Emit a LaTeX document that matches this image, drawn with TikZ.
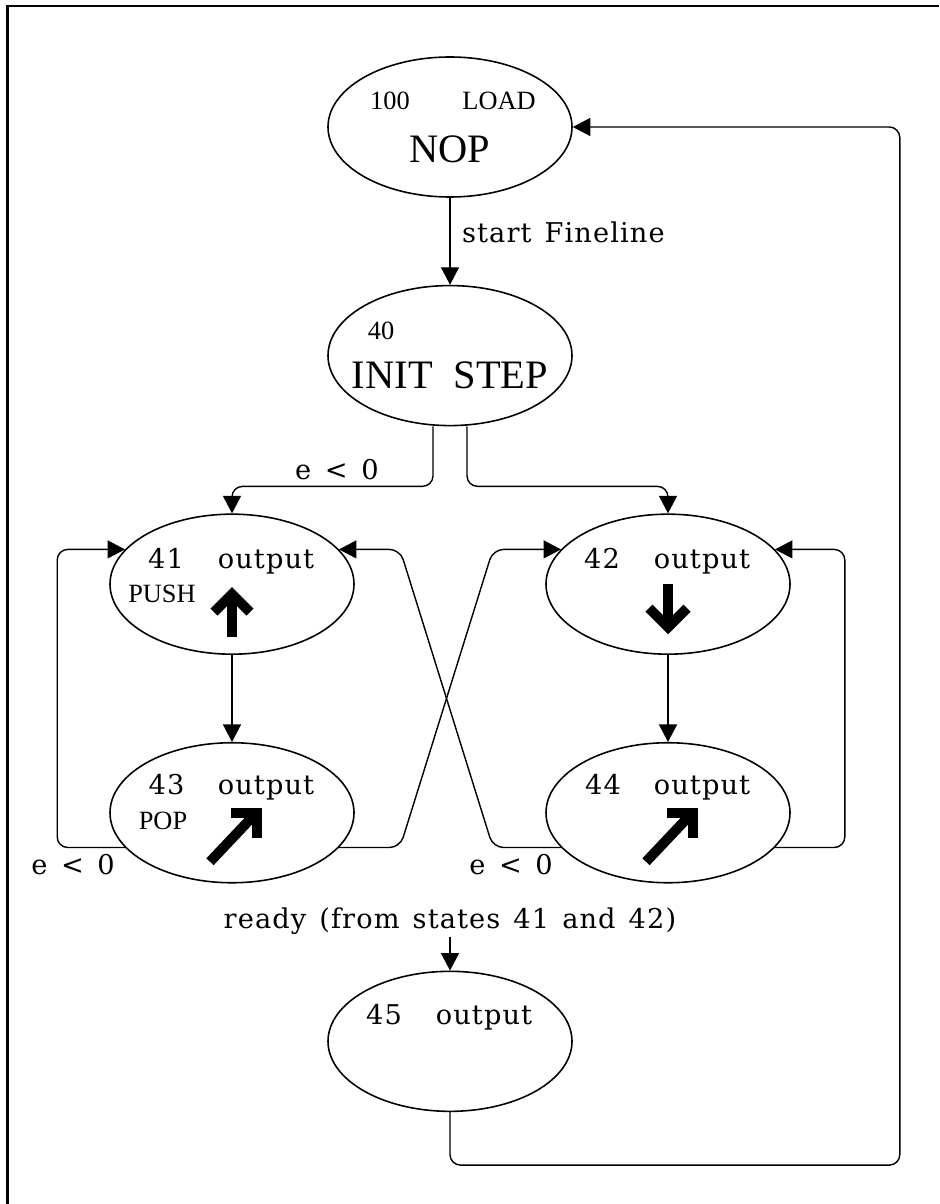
\documentclass[tikz,border=0pt]{standalone}
\usepackage{fontspec}
\setmainfont[LetterSpace=4]{DejaVu Serif}
\newfontfamily\romfont{Liberation Serif}
\usepackage{tikz}
\usetikzlibrary{arrows.meta,positioning,calc,shapes.geometric}
\newcommand\gap{\hspace{0.48em}}

\begin{document}
\begin{tikzpicture}[
  node distance=1.74cm,
  state/.style={ellipse,draw,line width=0.9pt,minimum width=4.88cm,minimum height=2.8cm,inner sep=0pt},
  lbl/.style={inner sep=1pt,anchor=base,font=\fontsize{15.5}{18}\selectfont},
  rom/.style={inner sep=1pt,anchor=base,font=\romfont\fontsize{15}{18}\selectfont},
  big/.style={inner sep=1pt,anchor=base,font=\romfont\fontsize{23}{27}\selectfont},
  arrow/.style={-{Triangle[length=3.5mm,width=3.6mm]},line width=0.8pt},
  fat/.style={line width=2mm,line join=miter,line cap=butt}
]
\useasboundingbox (0,0) rectangle (18.78,-24.08);
\draw[line width=1.2pt] (0.15,-24.08) -- (0.15,-0.12) -- (18.78,-0.12);

\node[state] (nop) at (9,-2.54) {};
\node[state,below=of nop] (init) {};
\node[state,below=of init,xshift=-4.36cm] (s41) {};
\node[state,below=of init,xshift=4.36cm] (s42) {};
\node[state,below=of s41] (s43) {};
\node[state,below=of s42] (s44) {};
\coordinate (mid) at (init |- s43.south);
\node[state,below=of mid] (s45) {};

\node[rom] (n100) at ([shift={(-1.2,0.34)}]nop.center) {100};
\node[rom] (load) at ([shift={(0.98,0.34)}]nop.center) {LOAD};
\node[big] (noptext) at ([shift={(0,-0.72)}]nop.center) {NOP};
\node[rom] (n40) at ([shift={(-1.38,0.32)}]init.center) {40};
\node[big] (inittext) at ([shift={(0,-0.66)}]init.center) {INIT\hspace{0.42cm}STEP};
\node[lbl] (n41) at ([shift={(-1.32,0.32)}]s41.center) {41};
\node[lbl] (out41) at ([shift={(0.68,0.32)}]s41.center) {output};
\node[rom] (push) at ([shift={(-1.4,-0.36)}]s41.center) {PUSH};
\node[lbl] (n42) at ([shift={(-1.32,0.32)}]s42.center) {42};
\node[lbl] (out42) at ([shift={(0.68,0.32)}]s42.center) {output};
\node[lbl] (n43) at ([shift={(-1.31,0.36)}]s43.center) {43};
\node[lbl] (out43) at ([shift={(0.68,0.36)}]s43.center) {output};
\node[rom] (pop) at ([shift={(-1.38,-0.34)}]s43.center) {POP};
\node[lbl] (n44) at ([shift={(-1.3,0.36)}]s44.center) {44};
\node[lbl] (out44) at ([shift={(0.68,0.36)}]s44.center) {output};
\node[lbl] (n45) at ([shift={(-1.32,0.34)}]s45.center) {45};
\node[lbl] (out45) at ([shift={(0.68,0.34)}]s45.center) {output};

\draw[fat] ([shift={(-0.36,-0.56)}]s41.center) -- ([shift={(0,-0.2)}]s41.center) -- ([shift={(0.36,-0.56)}]s41.center);
\draw[fat] ([shift={(0,-0.25)}]s41.center) -- ([shift={(0,-1.06)}]s41.center);
\draw[fat] ([shift={(-0.38,-0.48)}]s42.center) -- ([shift={(0,-0.86)}]s42.center) -- ([shift={(0.38,-0.48)}]s42.center);
\draw[fat] ([shift={(0,0)}]s42.center) -- ([shift={(0,-0.8)}]s42.center);
\draw[fat] ([shift={(-0.02,0)}]s43.center) -- ([shift={(0.49,0)}]s43.center) -- ([shift={(0.49,-0.5)}]s43.center);
\draw[fat] ([shift={(-0.44,-0.98)}]s43.center) -- ([shift={(0.42,-0.07)}]s43.center);
\draw[fat] ([shift={(-0.02,0)}]s44.center) -- ([shift={(0.49,0)}]s44.center) -- ([shift={(0.49,-0.5)}]s44.center);
\draw[fat] ([shift={(-0.44,-0.98)}]s44.center) -- ([shift={(0.42,-0.07)}]s44.center);

\draw[arrow] (nop) -- (init);
\node[lbl,anchor=base west] (start) at ([shift={(0.2,-0.9)}]nop.south) {start\gap Fineline};
\draw[arrow,rounded corners=6pt] ([xshift=-0.34cm]init.south) -- ++(0,-1.2) -| (s41.north);
\node[lbl] (neg1) at ([shift={(-2.26,-1.06)}]init.south) {e\enspace<\enspace0};
\draw[arrow,rounded corners=6pt] ([xshift=0.34cm]init.south) -- ++(0,-1.2) -| (s42.north);
\draw[arrow] (s41) -- (s43);
\draw[arrow] (s42) -- (s44);

\coordinate (xl) at ($(s41.east)!0.5!(s42.west)+(-1.0,0)$);
\coordinate (xr) at ($(s41.east)!0.5!(s42.west)+(0.86,0)$);
\draw[arrow,rounded corners=6pt] (s43.198) -| ([xshift=-1.04cm]s41.west) |- (s41.162);
\node[lbl] (neg2) at ([shift={(-1.04,-0.54)}]s43.198) {e\enspace<\enspace0};
\draw[arrow,rounded corners=6pt] (s43.342) -- (xl |- s43.342) -- (xr |- s42.162) -- (s42.162);
\draw[arrow,rounded corners=6pt] (s44.198) -- (xr |- s44.198) -- (xl |- s41.18) -- (s41.18);
\node[lbl] (neg3) at ([shift={(-1.0,-0.54)}]s44.198) {e\enspace<\enspace0};
\draw[arrow,rounded corners=6pt] (s44.342) -| ([xshift=1.08cm]s42.east) |- (s42.18);

\node[lbl] (ready) at ([yshift=0.84cm]s45.north) {ready\gap(from\gap states\gap 41\gap and\gap 42)};
\draw[arrow] (ready.south) -- (s45.north);
\coordinate (back) at ([xshift=6.54cm]nop.east);
\draw[arrow,rounded corners=6pt] (s45.south) -- ++(0,-1.06) -| (back) -- (nop.east);
\end{tikzpicture}
\end{document}
